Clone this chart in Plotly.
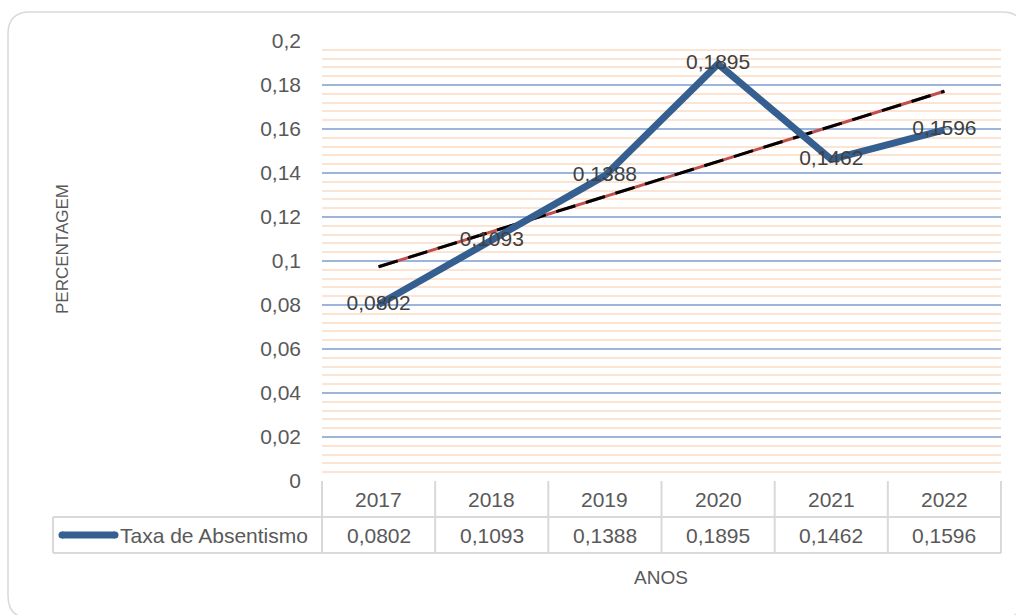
import numpy as np
import plotly.graph_objects as go

# ---- data ----
years = ["2017", "2018", "2019", "2020", "2021", "2022"]
taxa = [0.0802, 0.1093, 0.1388, 0.1895, 0.1462, 0.1596]
series_name = "Taxa de Absentismo"
y_ticks = [0, 0.02, 0.04, 0.06, 0.08, 0.1, 0.12, 0.14, 0.16, 0.18, 0.2]
x_title = "ANOS"
y_title = "PERCENTAGEM"


def fmt(v):
    s = f"{v:.4f}".rstrip("0").rstrip(".")
    return s.replace(".", ",")


# ---- layout geometry (pixels) ----
W, H = 1016, 615
L, R, T, B = 322, 1001, 41, 481
PW, PH = R - L, B - T


def px(xp):
    return (xp - L) / PW


def py(yp):
    return (B - yp) / PH


xi = list(range(len(years)))
slope, intercept = np.polyfit(np.arange(1, len(taxa) + 1), taxa, 1)
trend = [intercept + slope * (i + 1) for i in xi]

FONT = "Liberation Sans, Arial, sans-serif"
FS = 21
GREY = "#595959"
DARK = "#404040"
LINE = "#D9D9D9"
BLUE = "#355F91"

fig = go.Figure()
fig.add_trace(go.Scatter(
    x=xi, y=trend, mode="lines", line=dict(color="#C0504D", width=3),
    showlegend=False, hoverinfo="skip",
))
fig.add_trace(go.Scatter(
    x=xi, y=trend, mode="lines",
    line=dict(color="#000000", width=3, dash="20px,11px"),
    showlegend=False, hoverinfo="skip",
))
fig.add_trace(go.Scatter(
    x=xi, y=taxa, mode="lines+text", name=series_name,
    line=dict(color=BLUE, width=7),
    text=[fmt(v) for v in taxa], textposition="middle center",
    textfont=dict(family=FONT, size=FS, color=DARK),
    showlegend=False, cliponaxis=False,
))

shapes = []
n = len(years)
for k in range(n + 1):
    shapes.append(dict(type="line", xref="paper", yref="paper",
                       x0=k / n, x1=k / n, y0=py(481), y1=py(553),
                       line=dict(color=LINE, width=2)))
for yy in (517, 553):
    shapes.append(dict(type="line", xref="paper", yref="paper",
                       x0=px(53), x1=1, y0=py(yy), y1=py(yy),
                       line=dict(color=LINE, width=2)))
shapes.append(dict(type="line", xref="paper", yref="paper",
                   x0=px(53), x1=px(53), y0=py(517), y1=py(553),
                   line=dict(color=LINE, width=2)))
# legend key with rounded ends
shapes.append(dict(type="line", xref="paper", yref="paper",
                   x0=px(62), x1=px(115), y0=py(535), y1=py(535),
                   line=dict(color=BLUE, width=7)))
for cx in (62, 115):
    shapes.append(dict(type="circle", xref="paper", yref="paper",
                       x0=px(cx - 3.5), x1=px(cx + 3.5),
                       y0=py(535 + 3.5), y1=py(535 - 3.5),
                       fillcolor=BLUE, line=dict(width=0)))
# outer rounded border
r = 22
x0b, y0b, x1b, y1b = 8, 12, 1024, 618
path = (f"M {px(x0b)},{py(y0b + r)} "
        f"Q {px(x0b)},{py(y0b)} {px(x0b + r)},{py(y0b)} "
        f"L {px(x1b - r)},{py(y0b)} "
        f"Q {px(x1b)},{py(y0b)} {px(x1b)},{py(y0b + r)} "
        f"L {px(x1b)},{py(y1b - r)} "
        f"Q {px(x1b)},{py(y1b)} {px(x1b - r)},{py(y1b)} "
        f"L {px(x0b + r)},{py(y1b)} "
        f"Q {px(x0b)},{py(y1b)} {px(x0b)},{py(y1b - r)} Z")
shapes.append(dict(type="path", xref="paper", yref="paper", path=path,
                   line=dict(color=LINE, width=1.5), layer="below"))

annotations = []
for i, (yr, v) in enumerate(zip(years, taxa)):
    annotations.append(dict(x=i, y=py(499), xref="x", yref="paper", text=yr,
                            xanchor="center", yanchor="middle",
                            showarrow=False, font=dict(family=FONT, size=FS, color=GREY)))
    annotations.append(dict(x=i, y=py(535), xref="x", yref="paper", text=fmt(v),
                            xanchor="center", yanchor="middle",
                            showarrow=False, font=dict(family=FONT, size=FS, color=GREY)))
annotations.append(dict(x=px(118), y=py(535), xref="paper", yref="paper",
                        text=series_name, xanchor="left", yanchor="middle",
                        showarrow=False,
                        font=dict(family=FONT, size=FS, color=GREY)))
annotations.append(dict(x=px(661), y=py(577), xref="paper", yref="paper",
                        text=x_title, xanchor="center", yanchor="middle",
                        showarrow=False,
                        font=dict(family=FONT, size=19, color=GREY)))
annotations.append(dict(x=px(62), y=py(249), xref="paper", yref="paper",
                        text=y_title, textangle=-90, xanchor="center",
                        yanchor="middle", showarrow=False,
                        font=dict(family=FONT, size=17, color=GREY)))

fig.update_layout(
    width=W, height=H,
    margin=dict(l=L, r=W - R, t=T, b=H - B, pad=0),
    paper_bgcolor="white", plot_bgcolor="white",
    shapes=shapes, annotations=annotations,
    xaxis=dict(range=[-0.5, n - 0.5], showgrid=False, zeroline=False,
               showticklabels=False, showline=False, fixedrange=True),
    yaxis=dict(range=[0, 0.2], tickvals=y_ticks,
               ticktext=[fmt(v) for v in y_ticks],
               tickfont=dict(family=FONT, size=FS, color=GREY),
               showgrid=True, gridcolor="#9DB5D8", gridwidth=2,
               zeroline=False, showline=False, ticks="",
               ticklabelstandoff=20,
               minor=dict(dtick=0.004, showgrid=True, gridcolor="#FCE4D3", gridwidth=2)),
    showlegend=False,
)

fig.write_html("out.html", config={"displayModeBar": False},
               post_script="document.body.style.margin='0';document.body.style.overflow='hidden';")
